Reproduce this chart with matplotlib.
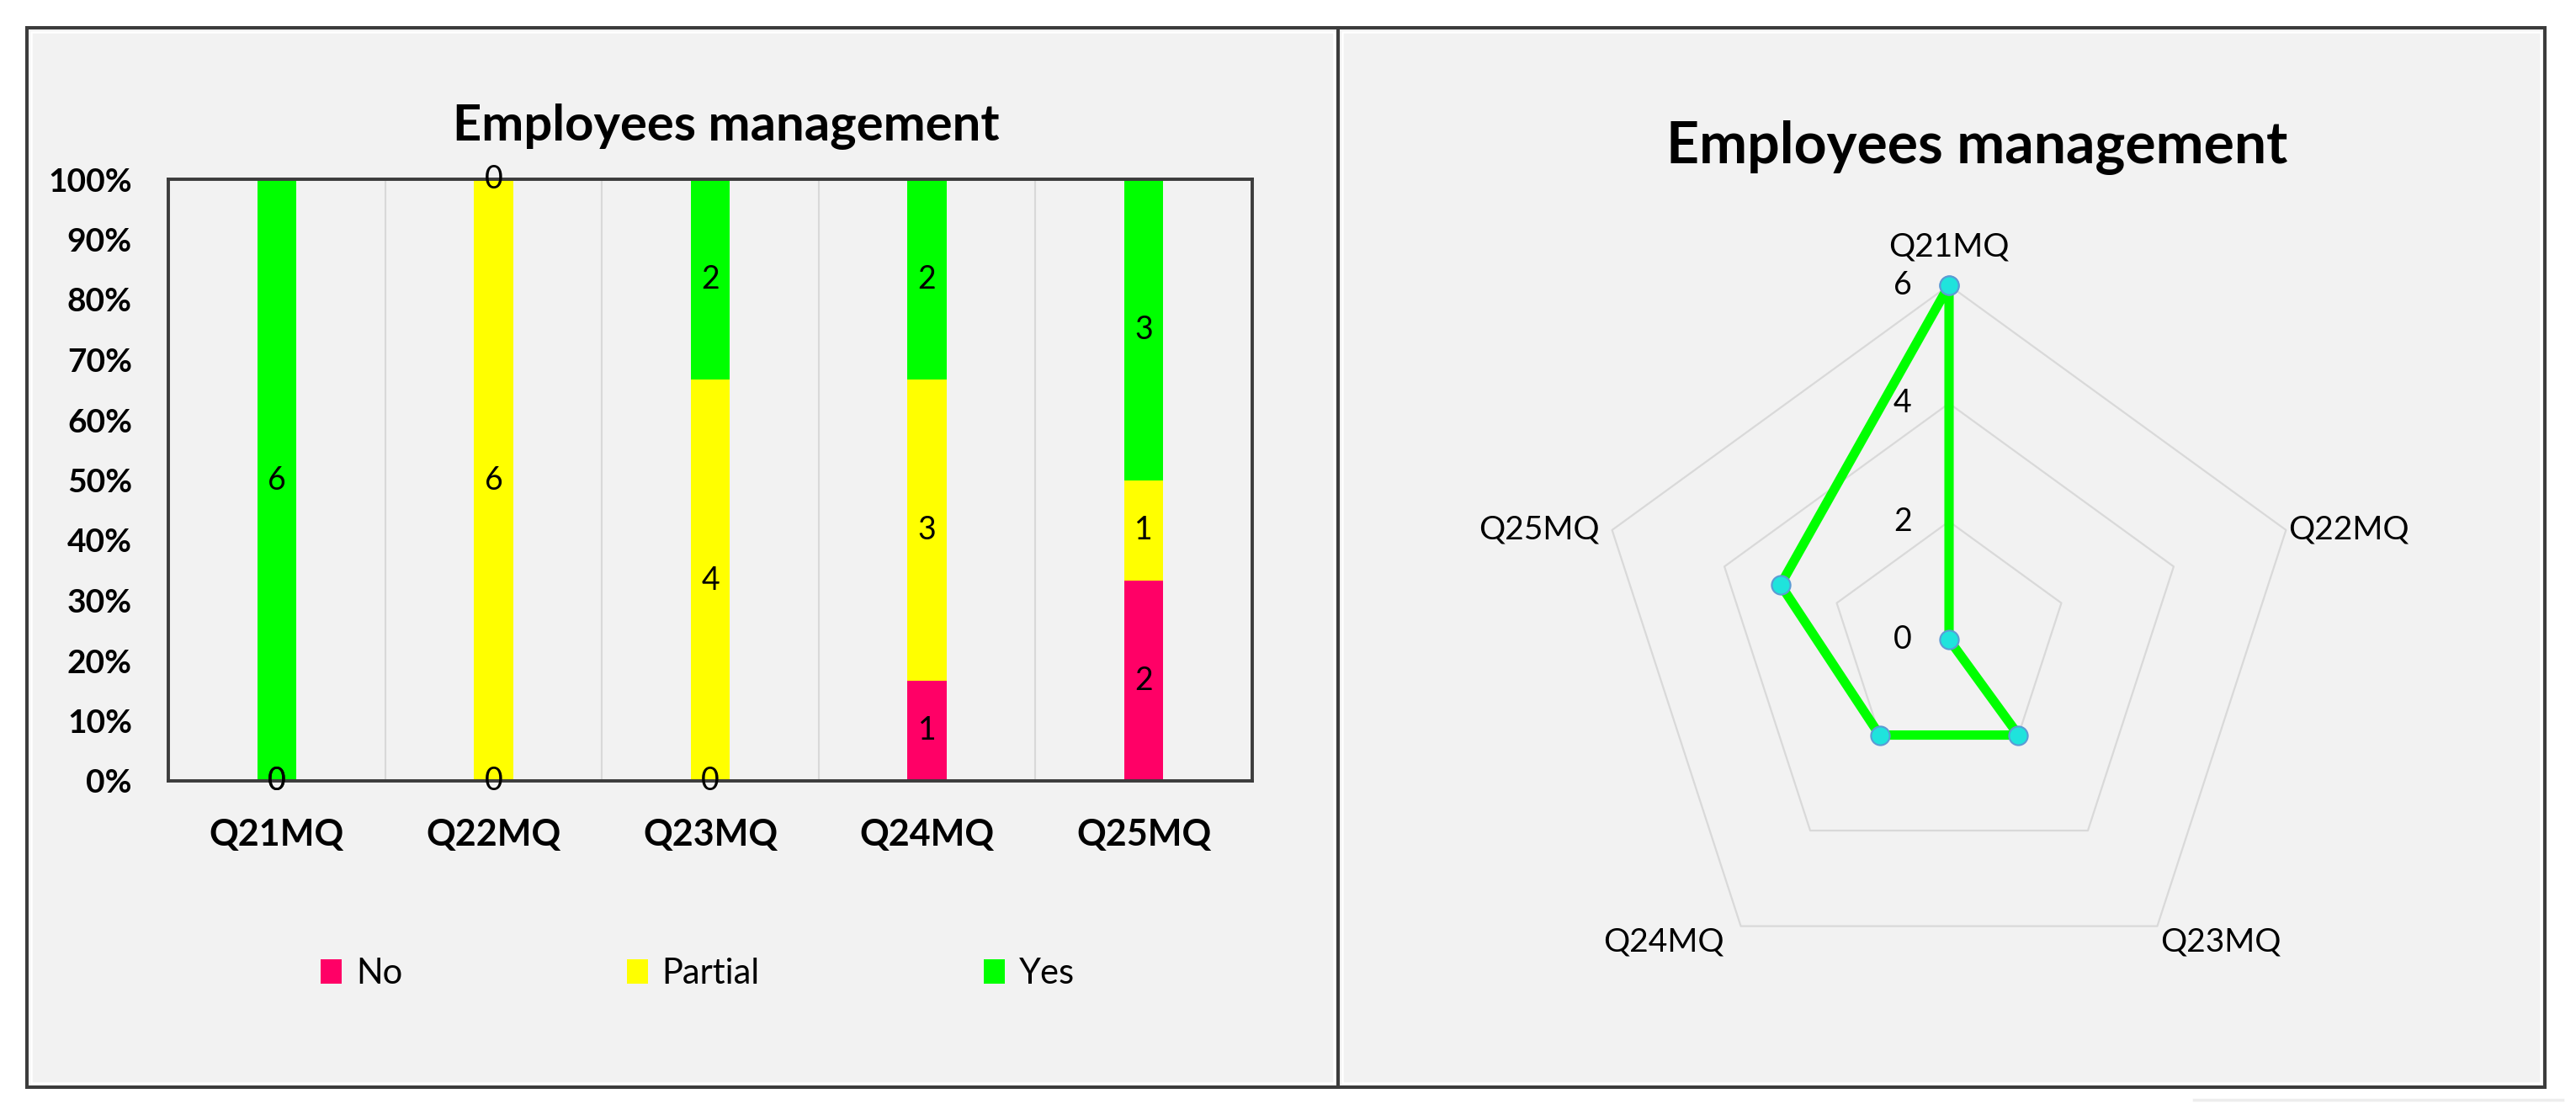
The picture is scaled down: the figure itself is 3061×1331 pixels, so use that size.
import numpy as np
import matplotlib
matplotlib.use("Agg")
import matplotlib.pyplot as plt
from matplotlib.patches import Rectangle
from matplotlib.lines import Line2D
from matplotlib.transforms import offset_copy

plt.rcParams["font.family"] = ["Lato", "DejaVu Sans"]

# --- data ---
questions      = ["Q21MQ", "Q22MQ", "Q23MQ", "Q24MQ", "Q25MQ"]
answers        = ["No", "Partial", "Yes"]
no_counts      = [0, 0, 0, 1, 2]
partial_counts = [0, 6, 4, 3, 1]
yes_counts     = [6, 0, 2, 2, 3]
pct_ticks      = list(range(0, 101, 10))
radar_ticks    = [0, 2, 4, 6]

COLORS   = {"No": "#FF0066", "Partial": "#FFFF00", "Yes": "#00FF00"}
PANEL_BG = "#F2F2F2"
FRAME    = "#3C3C3C"
GRID     = "#D9D9D9"

W, H = 3061, 1331


def fx(px):
    return px / W


def fy(py):
    return 1 - py / H


fig = plt.figure(figsize=(W / 100, H / 100), dpi=100, facecolor="white")

# panel boxes
for x0, x1 in ((32, 1590), (1590, 3024)):
    fig.add_artist(Rectangle((fx(x0), fy(1292)), fx(x1) - fx(x0), fy(33) - fy(1292),
                             transform=fig.transFigure, facecolor=PANEL_BG,
                             edgecolor=FRAME, lw=2.9, zorder=0))
    fig.add_artist(Rectangle((fx(x0 + 5), fy(1287)), fx(x1 - 5) - fx(x0 + 5), fy(38) - fy(1287),
                             transform=fig.transFigure, facecolor="none",
                             edgecolor="white", lw=1.8, zorder=0))
fig.add_artist(Line2D([fx(2607), fx(3045)], [fy(1307), fy(1307)], transform=fig.transFigure,
                      color="#EDEDED", lw=2.5))

# --- left: 100% stacked bars ---
ax = fig.add_axes([fx(200), fy(928), fx(1488) - fx(200), fy(213) - fy(928)])
ax.set_facecolor(PANEL_BG)
x = np.arange(len(questions))
totals = np.array(no_counts) + np.array(partial_counts) + np.array(yes_counts)
bottom = np.zeros(len(questions))
for name, counts in zip(answers, (no_counts, partial_counts, yes_counts)):
    counts = np.array(counts)
    pct = counts / totals * 100
    bars = ax.bar(x, pct, 0.18, bottom=bottom, color=COLORS[name], label=name,
                  linewidth=0, zorder=2)
    ax.bar_label(bars, labels=[str(c) for c in counts], label_type="center",
                 fontsize=27, zorder=4)
    bottom += pct

for v in x[:-1] + 0.5:
    ax.axvline(v, color=GRID, lw=1.5, zorder=1)
ax.set_xlim(-0.5, len(questions) - 0.5)
ax.set_ylim(0, 100)
ax.set_yticks(pct_ticks, [f"{t}%" for t in pct_ticks], fontsize=28, fontweight="bold")
ax.set_xticks(x, questions, fontsize=31, fontweight="bold")
ax.tick_params(axis="y", length=0, pad=31)
ax.tick_params(axis="x", length=0, pad=32)
for sp in ax.spines.values():
    sp.set_color(FRAME)
    sp.set_linewidth(2.8)

ax.legend(loc="center", bbox_to_anchor=(fx(829), fy(1157)), bbox_transform=fig.transFigure,
          ncol=3, frameon=False, fontsize=30, handlelength=0.6, handleheight=0.7,
          handletextpad=0.4, columnspacing=6.4)

fig.text(fx(863), fy(150), "Employees management", ha="center", va="center",
         fontsize=43, fontweight="bold")

# --- right: radar of "Yes" counts ---
cx, cy, R = 2316, 760, 421
rax = fig.add_axes([fx(cx - R), fy(cy + R), 2 * R / W, 2 * R / H], projection="polar")
rax.set_facecolor("none")
rax.set_theta_offset(np.pi / 2)
rax.set_theta_direction(-1)
rax.set_ylim(0, 6)
rax.grid(False)
rax.spines["polar"].set_visible(False)
rax.set_xticks([])
rax.set_yticks([])

angles = np.linspace(0, 2 * np.pi, len(questions), endpoint=False)
ring = np.append(angles, angles[0])
for r in radar_ticks[1:]:
    rax.plot(ring, [r] * len(ring), color=GRID, lw=1.6, zorder=1, clip_on=False)
vals = np.append(yes_counts, yes_counts[0])
rax.plot(ring, vals, color="#00FF00", lw=8, marker="o", ms=16, mfc="#1FE3DC",
         mec="#5B9BD5", mew=1.5, zorder=3, clip_on=False)

for r in radar_ticks:
    rax.text(0, r, str(r), ha="center", va="center", fontsize=27,
             transform=offset_copy(rax.transData, fig=fig, x=-55, y=0, units="dots"))

label_offsets = [(0, 46), (74, 0), (75, -19), (-92, -19), (-87, 0)]
for ang, q, (dx, dy) in zip(angles, questions, label_offsets):
    rax.text(ang, 6, q, ha="center", va="center", fontsize=28,
             transform=offset_copy(rax.transData, fig=fig, x=dx, y=dy, units="dots"))

fig.text(fx(2349), fy(176), "Employees management", ha="center", va="center",
         fontsize=49, fontweight="bold")

fig.savefig("out.png", dpi=100, facecolor="white")
